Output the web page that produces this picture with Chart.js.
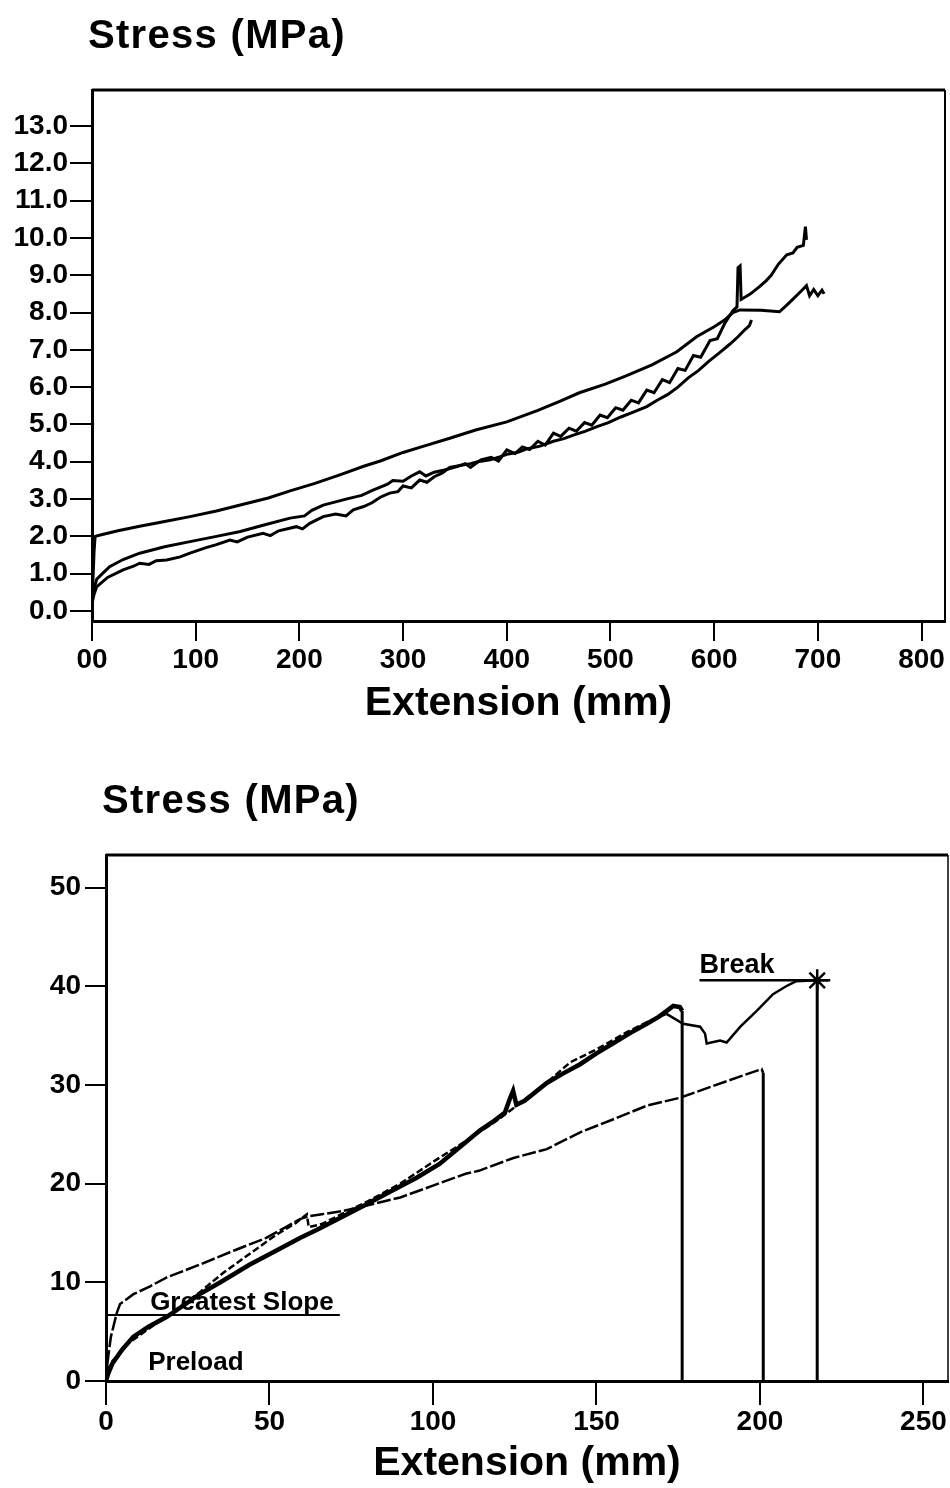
<!DOCTYPE html>
<html><head><meta charset="utf-8">
<script src="https://cdn.jsdelivr.net/npm/chart.js@4.4.1/dist/chart.umd.min.js"></script>
<style>
html,body{margin:0;padding:0;background:#fff;}
body{width:950px;height:1488px;position:relative;overflow:hidden;font-family:"Liberation Sans",Arial,sans-serif;}
.ttl{position:absolute;font-weight:bold;font-size:40px;letter-spacing:1.3px;color:#000;line-height:1;white-space:nowrap;z-index:2;}
.box{position:absolute;left:0;width:950px;}
</style></head><body>
<div class="ttl" style="left:88px;top:14px;">Stress (MPa)</div>
<div class="ttl" style="left:102px;top:779px;">Stress (MPa)</div>
<div class="box" style="top:0;height:740px"><canvas id="c1" width="950" height="740"></canvas></div>
<div class="box" style="top:740px;height:748px"><canvas id="c2" width="950" height="748"></canvas></div>
<script>
// ---------- Chart 1 data (Extension mm, Stress MPa) ----------
const ext1A = [0,1,2,3,10,25,46,70,94.5,120,143,170,191,215,239,262,278,300,320,345,370,400,430,451,470,495,515,540,564,583,600,610,618,625,645,663,670,676,683,689,692,696,700,704,706];
const str1A = [0.35,0.9,1.6,2.0,2.05,2.15,2.27,2.4,2.53,2.68,2.84,3.03,3.22,3.42,3.65,3.88,4.02,4.25,4.42,4.63,4.85,5.07,5.38,5.62,5.85,6.08,6.3,6.6,6.95,7.35,7.62,7.8,8.0,8.07,8.06,8.02,8.2,8.36,8.55,8.72,8.45,8.62,8.45,8.6,8.5];
const ext1B = [0,2,4.5,10,17,30,46,70,94.5,120,143,165,191,205,212,223,245,260,271,285,290,300,308,316,322,330,340,352,360,365,375,385,392,400,408,415,422,430,437,445,452,460,467,475,482,490,497,505,512,520,527,535,542,550,557,565,572,580,587,596,603,610,618,622,623,625,626,635,644,650,655,662,670,676,680,686,688,689];
const str1B = [0.3,0.6,0.85,1.0,1.19,1.38,1.55,1.72,1.86,2.0,2.13,2.3,2.49,2.55,2.7,2.84,3.0,3.1,3.24,3.4,3.5,3.48,3.62,3.73,3.62,3.72,3.78,3.87,3.95,3.85,4.05,4.12,4.02,4.32,4.22,4.4,4.33,4.55,4.45,4.77,4.68,4.9,4.82,5.05,4.98,5.25,5.18,5.45,5.38,5.65,5.58,5.92,5.85,6.2,6.12,6.5,6.45,6.85,6.8,7.25,7.3,7.7,8.05,8.15,9.2,9.25,8.35,8.5,8.7,8.85,9.0,9.3,9.55,9.6,9.75,9.8,10.3,9.95];
const ext1C = [0,2,4.5,15,30,40,46,55,62,72,85,94.5,110,120,133,140,150,165,172,180,197,203,210,223,235,245,252,262,270,278,287,295,300,308,316,323,330,338,345,355,365,372,384,392,400,410,420,432,445,455,465,476,487,498,510,522,535,545,555,565,575,585,595,605,615,623,630,634,636];
const str1C = [0.2,0.45,0.65,0.9,1.1,1.2,1.28,1.25,1.35,1.37,1.45,1.55,1.7,1.78,1.9,1.85,1.98,2.08,2.02,2.15,2.26,2.2,2.35,2.53,2.6,2.55,2.71,2.8,2.9,3.05,3.16,3.2,3.35,3.3,3.51,3.45,3.6,3.7,3.85,3.9,3.95,4.0,4.05,4.12,4.2,4.25,4.35,4.42,4.55,4.62,4.72,4.82,4.94,5.05,5.2,5.33,5.48,5.65,5.8,6.0,6.25,6.45,6.7,6.92,7.15,7.35,7.55,7.65,7.8];
const xTickVals1 = [0,100,200,300,400,500,600,700,800];
const xTickLabels1 = ['00','100','200','300','400','500','600','700','800'];
const yTickVals1 = [0,1,2,3,4,5,6,7,8,9,10,11,12,13];
const yTickLabels1 = ['0.0','1.0','2.0','3.0','4.0','5.0','6.0','7.0','8.0','9.0','10.0','11.0','12.0','13.0'];

// ---------- Chart 2 data ----------
const ext2T = [0,0.6,2,5,8.4,13,18.6,23,28.7,35,44,52,59.3,64.4,72,79.7,87,95,102,110,114.4,118,122,123.5,124.5,125.5,128,134.8,140,145,150,155,160,165.4,169,171.5,173.5,175.5,176.2,176.2];
const str2T = [0,0.7,1.8,3.2,4.5,5.5,6.5,7.5,8.8,10.0,11.8,13.2,14.5,15.3,16.6,17.9,19.2,20.6,22.0,24.2,25.4,26.2,27.2,28.6,29.4,28.0,28.4,30.2,31.2,32.1,33.2,34.2,35.2,36.2,36.9,37.5,38.0,37.9,37.5,0];
const ext2D = [0,1.2,6.3,13.5,20,28.7,36,44,52,58,61.4,62,66,72,80,90,100,110,120,128,135,142,150,159,165,171.4,176.5,181.7,183.2,183.7,187.8,189.8,194,199,204,208,211,217.5,217.5];
const str2D = [0,1.7,3.7,5.4,6.9,9.0,11.0,12.9,14.8,16.0,16.9,15.6,15.9,16.9,18.2,20.0,22.2,24.3,26.5,28.5,30.3,32.3,33.6,35.3,36.3,37.2,36.2,35.9,35.2,34.2,34.5,34.3,35.9,37.5,39.2,40.0,40.5,40.6,0];
const ext2L = [0,0.5,1.5,3.3,4.3,8.4,13.5,18.6,28.7,39,49,55,59.3,62,66,72,80,90,100,110,114,124.6,134.8,145,155,165.4,175.5,185.7,196,200.5,201,201];
const str2L = [0,2.0,4.5,6.9,7.8,8.8,9.6,10.5,11.8,13.2,14.5,15.6,16.4,16.7,16.9,17.2,17.8,18.6,19.8,21.0,21.3,22.6,23.5,25.2,26.5,27.9,28.7,29.9,31.1,31.6,31.2,0];
const extSlope = [0.3,0.3,71.5];
const strSlope = [0,6.7,6.7];
const extBreakLine = [181.5,221.5];
const strBreakLine = [40.6,40.6];
const extBreak = [217.5];
const strBreak = [40.6];
const xTickVals2 = [0,50,100,150,200,250];
const xTickLabels2 = ['0','50','100','150','200','250'];
const yTickVals2 = [0,10,20,30,40,50];
const yTickLabels2 = ['0','10','20','30','40','50'];

const FAM = "'Liberation Sans', Arial, sans-serif";
Chart.defaults.font.family = FAM;
Chart.defaults.color = '#000';

function pts(xs, ys){ return xs.map((x,i)=>({x:x, y:ys[i]})); }

const framePlugin = {
  id:'frame',
  afterDraw(chart, args, opts){
    const a = chart.chartArea, ctx = chart.ctx;
    ctx.save(); ctx.strokeStyle = '#000';
    ctx.lineWidth = opts.top || 3;
    ctx.beginPath(); ctx.moveTo(a.left, a.top); ctx.lineTo(a.right, a.top); ctx.stroke();
    ctx.lineWidth = opts.right || 2;
    ctx.beginPath(); ctx.moveTo(a.right, a.top); ctx.lineTo(a.right, a.bottom); ctx.stroke();
    ctx.restore();
  }
};
const notesPlugin = {
  id:'notes',
  afterDatasetsDraw(chart, args, opts){
    const items = opts.items || []; if(!items.length) return;
    const ctx = chart.ctx, sx = chart.scales.x, sy = chart.scales.y;
    ctx.save(); ctx.fillStyle = '#000'; ctx.textBaseline = 'alphabetic'; ctx.textAlign = 'left';
    items.forEach(it=>{
      ctx.font = 'bold ' + it.size + 'px ' + FAM;
      ctx.fillText(it.text, sx.getPixelForValue(it.x), sy.getPixelForValue(it.y));
    });
    ctx.restore();
  }
};

function axis(opts){
  return {
    type:'linear', min:opts.min, max:opts.max,
    afterBuildTicks: s => { s.ticks = opts.vals.map(v=>({value:v})); },
    afterFit: s => {
      if(opts.w) s.width = opts.w;
      if(opts.h) s.height = opts.h;
      s.paddingLeft = 0; s.paddingRight = 0; s.paddingTop = 0; s.paddingBottom = 0;
    },
    ticks:{ callback:(v,i)=>opts.labels[i], font:{size:opts.fs, weight:'bold'}, color:'#000', padding:opts.pad, autoSkip:false, maxRotation:0 },
    grid:{ drawOnChartArea:false, drawTicks:true, tickLength:opts.tl, color:'#000', lineWidth:2 },
    border:{ display:true, color:'#000', width:3 },
    title: opts.title ? { display:true, text:opts.title, font:{size:41, weight:'bold'}, color:'#000', padding:{top:0,bottom:opts.tpb} } : {display:false}
  };
}

// dashUntil: dashing applies only to segments starting before this extension value; vertical drops are solid
function line(xs, ys, w, dash, dashUntil){
  const lim = dashUntil === undefined ? Infinity : dashUntil;
  return { data:pts(xs,ys), showLine:true, borderColor:'#000', backgroundColor:'#000', borderWidth:w, pointRadius:0, tension:0, fill:false,
    segment:{
      borderDash: c => (!dash || c.p0.parsed.x === c.p1.parsed.x || c.p0.parsed.x >= lim) ? [] : dash,
      borderWidth: c => (c.p0.parsed.x === c.p1.parsed.x && c.p1.parsed.y === 0) ? 3 : w
    } };
}

new Chart(document.getElementById('c1'), {
  type:'scatter',
  data:{ datasets:[ line(ext1A,str1A,3), line(ext1B,str1B,3), line(ext1C,str1C,3) ] },
  options:{
    responsive:false, animation:false, devicePixelRatio:1,
    layout:{ autoPadding:false, padding:{ top:90, right:5, left:0, bottom:0 } },
    plugins:{ legend:{display:false}, tooltip:{enabled:false}, frame:{top:3,right:2} },
    scales:{
      x: axis({min:0, max:822.6, vals:xTickVals1, labels:xTickLabels1, fs:28, pad:2, tl:20, h:119, title:'Extension (mm)', tpb:12}),
      y: axis({min:-0.268, max:13.965, vals:yTickVals1, labels:yTickLabels1, fs:28, pad:2, tl:22, w:92})
    }
  },
  plugins:[framePlugin]
});

const breakStar = { data:pts(extBreak,strBreak), showLine:false, pointStyle:'star', pointRadius:11, borderWidth:2.5, borderColor:'#000', backgroundColor:'#000' };

new Chart(document.getElementById('c2'), {
  type:'scatter',
  data:{ datasets:[
    line(ext2T,str2T,4.5),
    line(ext2D,str2D,2.5,[7,3],171),
    line(ext2L,str2L,2.5,[14,3]),
    line(extSlope,strSlope,2),
    line(extBreakLine,strBreakLine,2.5),
    breakStar
  ]},
  options:{
    responsive:false, animation:false, devicePixelRatio:1,
    layout:{ autoPadding:false, padding:{ top:115, right:2, left:0, bottom:0 } },
    plugins:{ legend:{display:false}, tooltip:{enabled:false}, frame:{top:3,right:1.5},
      notes:{ items:[
        {text:'Greatest Slope', x:13.5, y:7.2, size:26},
        {text:'Preload', x:12.9, y:1.1, size:26},
        {text:'Break', x:181.5, y:41.3, size:27}
      ]}
    },
    scales:{
      x: axis({min:0, max:257.5, vals:xTickVals2, labels:xTickLabels2, fs:28, pad:0, tl:24, h:107, title:'Extension (mm)', tpb:0}),
      y: axis({min:0, max:53.3, vals:yTickVals2, labels:yTickLabels2, fs:28, pad:4, tl:21, w:106})
    }
  },
  plugins:[framePlugin, notesPlugin]
});
</script>
</body></html>
